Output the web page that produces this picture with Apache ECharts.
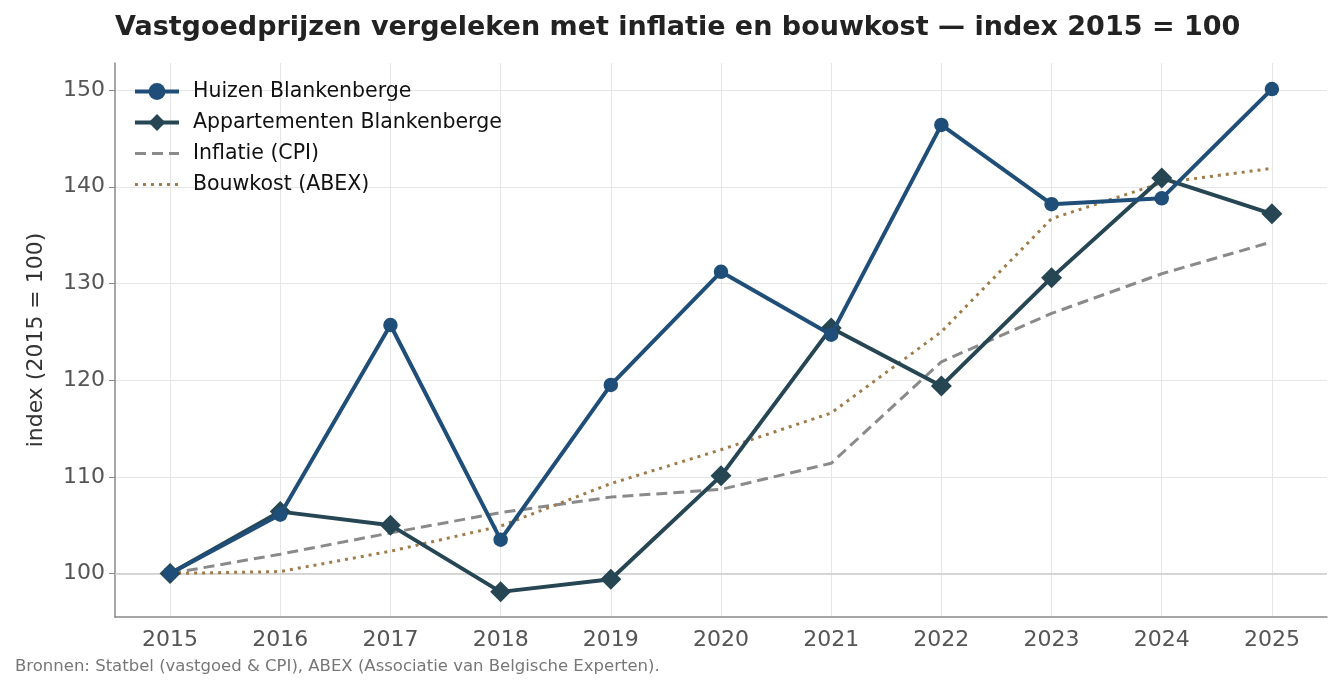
<!DOCTYPE html>
<html>
	<head>
		<meta charset="utf-8" />
		<title>Vastgoedprijzen</title>
		<style>
			html, body { margin: 0; padding: 0; background: #fff; }
			#chart { width: 1341px; height: 691px; }
		</style>
	</head>
	<body>
		<div id="chart"></div>
		<script src="https://cdn.jsdelivr.net/npm/echarts@6/dist/echarts.min.js" type="text/javascript" charset="utf-8"></script>
		<script type="text/javascript">
			// jaren en indexwaarden (2015 = 100)
			var jaren = ['2015','2016','2017','2018','2019','2020','2021','2022','2023','2024','2025'];
			var huizen = [100, 106.1, 125.7, 103.5, 119.5, 131.2, 124.7, 146.4, 138.2, 138.8, 150.1];
			var appartementen = [100, 106.4, 105.0, 98.1, 99.4, 110.1, 125.4, 119.4, 130.6, 140.9, 137.2];
			var inflatie = [100, 102.0, 104.2, 106.3, 107.9, 108.7, 111.4, 121.9, 126.9, 131.0, 134.3];
			var bouwkost = [100, 100.2, 102.3, 104.9, 109.3, 112.8, 116.6, 125.0, 136.7, 140.4, 141.9];
			var basis = 100;

			var fontFam = 'DejaVu Sans';
			var myChart = echarts.init(document.getElementById('chart'));

			myChart.setOption({
				animation: false,
				textStyle: { fontFamily: fontFam },
				title: [{
					text: 'Vastgoedprijzen vergeleken met inflatie en bouwkost — index 2015 = 100',
					left: 110,
					top: 9,
					textStyle: { fontSize: 27, fontWeight: 'bold', color: '#222', fontFamily: fontFam }
				}, {
					text: 'Bronnen: Statbel (vastgoed & CPI), ABEX (Associatie van Belgische Experten).',
					left: 10,
					top: 653,
					textStyle: { fontSize: 16.5, fontWeight: 'normal', color: '#777', fontFamily: fontFam }
				}],
				legend: {
					orient: 'vertical',
					left: 128,
					top: 76,
					itemWidth: 44,
					itemHeight: 21,
					itemGap: 10,
					lineStyle: { width: 'inherit' },
					textStyle: { fontSize: 20.5, color: '#111', fontFamily: fontFam, padding: [0, 0, 0, 9] },
					data: [
						{ name: 'Huizen Blankenberge' },
						{ name: 'Appartementen Blankenberge' },
						{ name: 'Inflatie (CPI)', itemStyle: { opacity: 0 } },
						{ name: 'Bouwkost (ABEX)', itemStyle: { opacity: 0 } }
					]
				},
				grid: { left: 115, right: 14, top: 63, bottom: 74 },
				xAxis: {
					type: 'category',
					data: jaren,
					boundaryGap: true,
					axisLine: { lineStyle: { color: '#888', width: 1.5 } },
					axisTick: { alignWithLabel: true, length: 6, lineStyle: { color: '#888' } },
					axisLabel: { fontSize: 22, color: '#555', margin: 12 },
					splitLine: { show: true, alignWithLabel: true, lineStyle: { color: '#e6e6e6', width: 1 } }
				},
				yAxis: {
					type: 'value',
					min: 95.5,
					max: 152.8,
					name: 'index (2015 = 100)',
					nameLocation: 'middle',
					nameGap: 68,
					nameTextStyle: { fontSize: 22, color: '#333' },
					axisLine: { show: true, lineStyle: { color: '#888', width: 1.5 } },
					axisTick: { show: true, length: 6, lineStyle: { color: '#888' } },
					axisLabel: { fontSize: 22, color: '#555', margin: 10, showMinLabel: false, showMaxLabel: false },
					splitLine: { show: true, showMinLine: false, showMaxLine: false, lineStyle: { color: '#e6e6e6', width: 1 } }
				},
				series: [{
					name: 'Huizen Blankenberge',
					type: 'line',
					data: huizen,
					symbol: 'circle',
					symbolSize: 14.5,
					z: 5,
					itemStyle: { color: '#1f4e79' },
					lineStyle: { color: '#1f4e79', width: 4 },
					markLine: {
						silent: true,
						symbol: 'none',
						label: { show: false },
						lineStyle: { color: '#cccccc', width: 1.5, type: 'solid' },
						data: [{ yAxis: basis }],
						z: 1
					}
				}, {
					name: 'Appartementen Blankenberge',
					type: 'line',
					data: appartementen,
					symbol: 'diamond',
					symbolSize: 21,
					z: 4,
					itemStyle: { color: '#264653' },
					lineStyle: { color: '#264653', width: 4 }
				}, {
					name: 'Inflatie (CPI)',
					type: 'line',
					data: inflatie,
					showSymbol: false,
					symbol: 'none',
					z: 3,
					itemStyle: { color: '#8a8a8a' },
					lineStyle: { color: '#8a8a8a', width: 3, type: [11, 6] }
				}, {
					name: 'Bouwkost (ABEX)',
					type: 'line',
					data: bouwkost,
					showSymbol: false,
					symbol: 'none',
					z: 3,
					itemStyle: { color: '#a07c4a' },
					lineStyle: { color: '#a07c4a', width: 3, type: [3, 5] }
				}]
			});
		</script>
	</body>
</html>
